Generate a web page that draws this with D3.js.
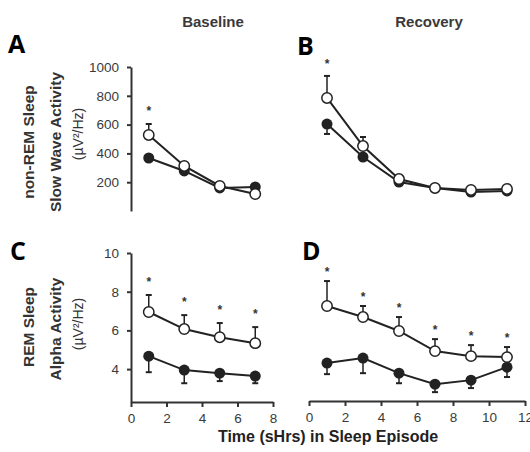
<!DOCTYPE html>
<html>
<head>
<meta charset="utf-8">
<script src="https://cdn.jsdelivr.net/npm/d3@7"></script>
<style>
  body { margin: 0; background: #fff; }
  svg { display: block; font-family: "Liberation Sans", Arial, sans-serif; }
</style>
</head>
<body>
<svg id="chart"></svg>
<script>
// hours into the sleep episode
const baselineHours = [1, 3, 5, 7];
const recoveryHours = [1, 3, 5, 7, 9, 11];

// non-REM slow wave activity (uV^2/Hz)
const swaBaseOpen = [528, 313, 174, 118];
const swaBaseOpenErr = [76, 0, 0, 0];
const swaBaseFilled = [368, 278, 160, 167];
const swaBaseFilledErr = [0, 0, 0, 0];
const swaBaseStars = [1, 0, 0, 0];

const swaRecOpen = [785, 451, 222, 160, 146, 153];
const swaRecOpenErr = [153, 63, 0, 0, 0, 0];
const swaRecFilled = [604, 375, 201, 160, 132, 139];
const swaRecFilledErr = [69, 0, 0, 0, 0, 0];
const swaRecStars = [1, 0, 0, 0, 0, 0];

// REM alpha activity (uV^2/Hz)
const alphaBaseOpen = [6.95, 6.07, 5.65, 5.34];
const alphaBaseOpenErr = [0.88, 0.72, 0.73, 0.83];
const alphaBaseFilled = [4.67, 3.95, 3.79, 3.64];
const alphaBaseFilledErr = [0.83, 0.68, 0.41, 0.37];
const alphaBaseStars = [1, 1, 1, 1];

const alphaRecOpen = [7.26, 6.69, 5.97, 4.93, 4.67, 4.62];
const alphaRecOpenErr = [1.29, 0.57, 0.72, 0.62, 0.57, 0.52];
const alphaRecFilled = [4.31, 4.57, 3.79, 3.22, 3.43, 4.10];
const alphaRecFilledErr = [0.57, 0.78, 0.52, 0.41, 0.41, 0.51];
const alphaRecStars = [1, 1, 1, 1, 1, 1];

// tick labels
const swaTicks = [200, 400, 600, 800, 1000];
const alphaTicks = [4, 6, 8, 10];
const baseXTicks = [0, 2, 4, 6, 8];
const recXTicks = [0, 2, 4, 6, 8, 10, 12];

const width = 530, height = 452;
const ink = "#222";

const svg = d3.select("#chart")
    .attr("width", width)
    .attr("height", height)
    .attr("viewBox", `0 0 ${width} ${height}`);

svg.append("rect").attr("width", width).attr("height", height).attr("fill", "#fff");

const xBase = d3.scaleLinear().domain([0, 8]).range([131, 273]);
const xRec = d3.scaleLinear().domain([0, 12]).range([309, 525]);
const ySwa = d3.scaleLinear().domain([0, 1000]).range([211, 67]);
const yAlpha = d3.scaleLinear().domain([2.3, 10]).range([402, 253]);

const fmt = d3.format("d");

function styleAxis(g) {
    g.selectAll("path.domain").attr("stroke", "#333").attr("stroke-width", 2);
    g.selectAll(".tick line").attr("stroke", "#333").attr("stroke-width", 2);
    g.selectAll(".tick text")
        .attr("fill", "#3a3a3a")
        .style("font-size", "13.5px")
        .style("font-family", "'Liberation Sans', Arial, sans-serif");
}

// axes
svg.append("g")
    .attr("transform", `translate(${xBase(0)},0)`)
    .call(d3.axisLeft(ySwa).tickValues(swaTicks).tickFormat(fmt).tickSize(4).tickSizeOuter(0).tickPadding(8))
    .call(styleAxis);

svg.append("g")
    .attr("transform", `translate(${xBase(0)},0)`)
    .call(d3.axisLeft(yAlpha).tickValues(alphaTicks).tickFormat(fmt).tickSize(4).tickSizeOuter(0).tickPadding(8))
    .call(styleAxis);

svg.append("g")
    .attr("transform", `translate(0,${yAlpha(2.3)})`)
    .call(d3.axisBottom(xBase).tickValues(baseXTicks).tickFormat(fmt).tickSize(5).tickSizeOuter(0).tickPadding(6))
    .call(styleAxis);

svg.append("g")
    .attr("transform", `translate(0,${yAlpha(2.3) - 1})`)
    .call(d3.axisBottom(xRec).tickValues(recXTicks).tickFormat(fmt).tickSize(5).tickSizeOuter(0).tickPadding(6))
    .call(styleAxis);

// one panel of two series with error bars
function drawPanel(x, y, hours, open, openErr, filled, filledErr, stars, starGap) {
    const g = svg.append("g");
    const line = d3.line().x((d, i) => x(hours[i])).y(d => y(d));

    g.append("path").datum(filled)
        .attr("d", line).attr("fill", "none").attr("stroke", ink).attr("stroke-width", 2);
    g.append("path").datum(open)
        .attr("d", line).attr("fill", "none").attr("stroke", ink).attr("stroke-width", 2);

    // error bars: open goes up, filled goes down
    const bars = [];
    open.forEach((v, i) => { if (openErr[i] > 0) bars.push({ h: hours[i], from: v, to: v + openErr[i] }); });
    filled.forEach((v, i) => { if (filledErr[i] > 0) bars.push({ h: hours[i], from: v, to: v - filledErr[i] }); });

    g.selectAll(".err").data(bars).enter().append("line")
        .attr("x1", d => x(d.h)).attr("x2", d => x(d.h))
        .attr("y1", d => y(d.from)).attr("y2", d => y(d.to))
        .attr("stroke", ink).attr("stroke-width", 1.5);
    g.selectAll(".cap").data(bars).enter().append("line")
        .attr("x1", d => x(d.h) - 3).attr("x2", d => x(d.h) + 3)
        .attr("y1", d => y(d.to)).attr("y2", d => y(d.to))
        .attr("stroke", ink).attr("stroke-width", 2);

    g.selectAll(".filled").data(filled).enter().append("circle")
        .attr("cx", (d, i) => x(hours[i])).attr("cy", d => y(d))
        .attr("r", 5.5).attr("fill", ink);
    g.selectAll(".open").data(open).enter().append("circle")
        .attr("cx", (d, i) => x(hours[i])).attr("cy", d => y(d))
        .attr("r", 5.2).attr("fill", "#fff").attr("stroke", ink).attr("stroke-width", 1.5);

    // significance stars above the open error bar
    g.selectAll(".star").data(open).enter()
        .filter((d, i) => stars[i])
        .append("text")
        .attr("x", (d, i) => x(hours[i]))
        .attr("y", (d, i) => y(d + openErr[i]) - starGap + 7)
        .attr("text-anchor", "middle")
        .attr("fill", "#333")
        .style("font-size", "12px")
        .style("font-weight", "bold")
        .text("*");
}

drawPanel(xBase, ySwa, baselineHours, swaBaseOpen, swaBaseOpenErr, swaBaseFilled, swaBaseFilledErr, swaBaseStars, 16);
drawPanel(xRec, ySwa, recoveryHours, swaRecOpen, swaRecOpenErr, swaRecFilled, swaRecFilledErr, swaRecStars, 15);
drawPanel(xBase, yAlpha, baselineHours, alphaBaseOpen, alphaBaseOpenErr, alphaBaseFilled, alphaBaseFilledErr, alphaBaseStars, 16);
drawPanel(xRec, yAlpha, recoveryHours, alphaRecOpen, alphaRecOpenErr, alphaRecFilled, alphaRecFilledErr, alphaRecStars, 12);

// column headings
svg.append("text").attr("x", 213).attr("y", 27).attr("text-anchor", "middle")
    .attr("fill", "#3a3a3a").style("font-size", "15px").style("font-weight", "bold").text("Baseline");
svg.append("text").attr("x", 429).attr("y", 27).attr("text-anchor", "middle")
    .attr("fill", "#3a3a3a").style("font-size", "15px").style("font-weight", "bold").text("Recovery");

// panel letters
const letters = [["A", 8, 53], ["B", 297, 55], ["C", 10, 260], ["D", 302, 260]];
svg.selectAll(".letter").data(letters).enter().append("text")
    .attr("x", d => d[1]).attr("y", d => d[2])
    .attr("fill", "#000")
    .style("font-family", "'Open Sans', sans-serif")
    .style("font-size", "25px").style("font-weight", "bold")
    .text(d => d[0]);

// rotated y labels
function yLabel(cx, cy, txt, bold, size) {
    svg.append("text")
        .attr("transform", `translate(${cx + size * 0.36},${cy}) rotate(-90)`)
        .attr("text-anchor", "middle")
        .attr("fill", "#333")
        .style("font-size", size + "px")
        .style("font-weight", bold ? "bold" : "normal")
        .text(txt);
}
yLabel(28, 142, "non-REM Sleep", true, 15.5);
yLabel(55, 142, "Slow Wave Activity", true, 15.5);
yLabel(78, 134, "(µV²/Hz)", false, 14);
yLabel(28, 327, "REM Sleep", true, 15.5);
yLabel(55, 329, "Alpha Activity", true, 15.5);
yLabel(78, 324, "(µV²/Hz)", false, 14);

// x title
svg.append("text").attr("x", 328).attr("y", 442).attr("text-anchor", "middle")
    .attr("fill", "#222").style("font-size", "16px").style("font-weight", "bold")
    .text("Time (sHrs) in Sleep Episode");
</script>
</body>
</html>
